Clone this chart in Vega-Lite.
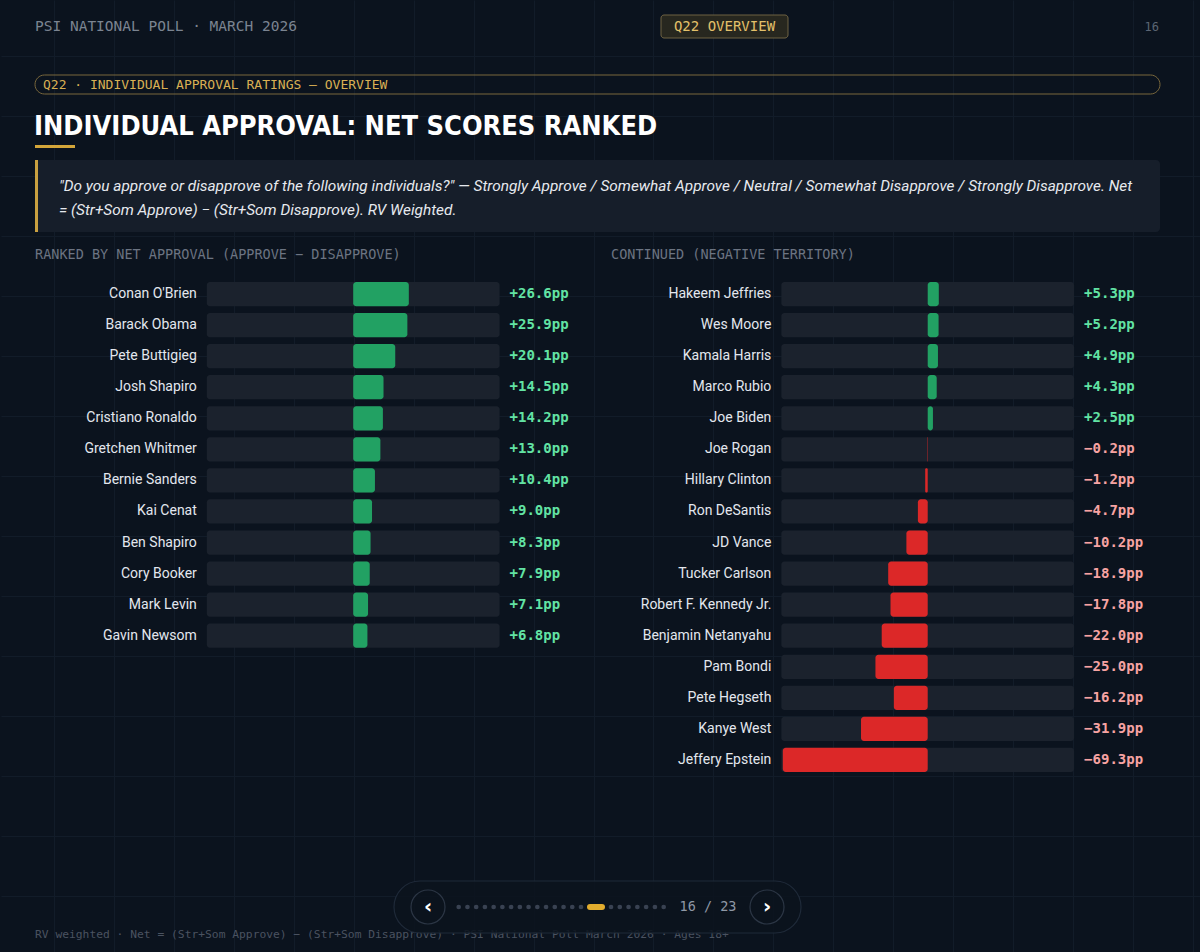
{
  "$schema": "https://vega.github.io/schema/vega-lite/v6.json",
  "width": 1200,
  "height": 952,
  "autosize": {"type": "fit", "contains": "padding"},
  "padding": 0,
  "background": "#0b131e",
  "config": {
    "view": {"stroke": null},
    "axis": {"minExtent": 0, "maxExtent": 0}
  },
  "datasets": {
    "rows": [
      {"panel": "L", "rank": 1, "name": "Conan O'Brien", "net": 26.6},
      {"panel": "L", "rank": 2, "name": "Barack Obama", "net": 25.9},
      {"panel": "L", "rank": 3, "name": "Pete Buttigieg", "net": 20.1},
      {"panel": "L", "rank": 4, "name": "Josh Shapiro", "net": 14.5},
      {"panel": "L", "rank": 5, "name": "Cristiano Ronaldo", "net": 14.2},
      {"panel": "L", "rank": 6, "name": "Gretchen Whitmer", "net": 13.0},
      {"panel": "L", "rank": 7, "name": "Bernie Sanders", "net": 10.4},
      {"panel": "L", "rank": 8, "name": "Kai Cenat", "net": 9.0},
      {"panel": "L", "rank": 9, "name": "Ben Shapiro", "net": 8.3},
      {"panel": "L", "rank": 10, "name": "Cory Booker", "net": 7.9},
      {"panel": "L", "rank": 11, "name": "Mark Levin", "net": 7.1},
      {"panel": "L", "rank": 12, "name": "Gavin Newsom", "net": 6.8},
      {"panel": "R", "rank": 1, "name": "Hakeem Jeffries", "net": 5.3},
      {"panel": "R", "rank": 2, "name": "Wes Moore", "net": 5.2},
      {"panel": "R", "rank": 3, "name": "Kamala Harris", "net": 4.9},
      {"panel": "R", "rank": 4, "name": "Marco Rubio", "net": 4.3},
      {"panel": "R", "rank": 5, "name": "Joe Biden", "net": 2.5},
      {"panel": "R", "rank": 6, "name": "Joe Rogan", "net": -0.2},
      {"panel": "R", "rank": 7, "name": "Hillary Clinton", "net": -1.2},
      {"panel": "R", "rank": 8, "name": "Ron DeSantis", "net": -4.7},
      {"panel": "R", "rank": 9, "name": "JD Vance", "net": -10.2},
      {"panel": "R", "rank": 10, "name": "Tucker Carlson", "net": -18.9},
      {"panel": "R", "rank": 11, "name": "Robert F. Kennedy Jr.", "net": -17.8},
      {"panel": "R", "rank": 12, "name": "Benjamin Netanyahu", "net": -22.0},
      {"panel": "R", "rank": 13, "name": "Pam Bondi", "net": -25.0},
      {"panel": "R", "rank": 14, "name": "Pete Hegseth", "net": -16.2},
      {"panel": "R", "rank": 15, "name": "Kanye West", "net": -31.9},
      {"panel": "R", "rank": 16, "name": "Jeffery Epstein", "net": -69.3}
    ],
    "pages": [
      {"page": 1}, {"page": 2}, {"page": 3}, {"page": 4}, {"page": 5}, {"page": 6},
      {"page": 7}, {"page": 8}, {"page": 9}, {"page": 10}, {"page": 11}, {"page": 12},
      {"page": 13}, {"page": 14}, {"page": 15}, {"page": 16}, {"page": 17}, {"page": 18},
      {"page": 19}, {"page": 20}, {"page": 21}, {"page": 22}, {"page": 23}
    ]
  },
  "layer": [
    {
      "data": {"values": [{}]},
      "mark": {"type": "point", "opacity": 0, "size": 1},
      "encoding": {
        "x": {"datum": 600, "type": "quantitative", "scale": {"domain": [0, 1200], "nice": false, "zero": false},
          "axis": {"grid": true, "values": [53, 113, 173, 233, 293, 353, 413, 473, 533, 593, 653, 713, 773, 833, 893, 953, 1013, 1073, 1133, 1193],
            "labels": false, "ticks": false, "domain": false, "title": null, "gridColor": "#121c29", "gridWidth": 1, "zindex": 0}},
        "y": {"datum": 476, "type": "quantitative", "scale": {"domain": [0, 952], "range": [0, 952], "nice": false, "zero": false},
          "axis": {"grid": true, "values": [55, 115, 175, 235, 295, 355, 415, 475, 535, 595, 655, 715, 775, 835, 895],
            "labels": false, "ticks": false, "domain": false, "title": null, "gridColor": "#121c29", "gridWidth": 1, "zindex": 0}}
      }
    },
    {
      "data": {"values": [{}]},
      "layer": [
        {"mark": {"type": "rule", "x": 0, "x2": 1200, "y": 52, "y2": 52, "stroke": "#1c2737", "strokeWidth": 1.5}, "encoding": {}},
        {"mark": {"type": "text", "x": 34, "y": 26, "text": "PSI NATIONAL POLL · MARCH 2026", "align": "left", "baseline": "middle", "font": "DejaVu Sans Mono", "fontSize": 14.5, "fill": "#7b8491"}, "encoding": {}},
        {"mark": {"type": "rect", "x": 660, "x2": 787, "y": 14, "y2": 37, "fill": "#27271f", "stroke": "#6f6343", "strokeWidth": 1, "cornerRadius": 3}, "encoding": {}},
        {"mark": {"type": "text", "x": 723.5, "y": 26, "text": "Q22 OVERVIEW", "align": "center", "baseline": "middle", "font": "DejaVu Sans Mono", "fontSize": 14, "fill": "#e3c06a"}, "encoding": {}},
        {"mark": {"type": "text", "x": 1158, "y": 26, "text": "16", "align": "right", "baseline": "middle", "font": "DejaVu Sans Mono", "fontSize": 12, "fill": "#5c6573"}, "encoding": {}},
        {"mark": {"type": "rect", "x": 34, "x2": 1159, "y": 74, "y2": 93, "fill": null, "stroke": "#7a683c", "strokeWidth": 1, "cornerRadius": 9.5}, "encoding": {}},
        {"mark": {"type": "text", "x": 42, "y": 84, "text": "Q22 · INDIVIDUAL APPROVAL RATINGS — OVERVIEW", "align": "left", "baseline": "middle", "font": "DejaVu Sans Mono", "fontSize": 13, "fill": "#d9b054"}, "encoding": {}},
        {"mark": {"type": "text", "x": 33, "y": 134, "text": "INDIVIDUAL APPROVAL: NET SCORES RANKED", "align": "left", "baseline": "alphabetic", "font": "Liberation Sans Narrow, DejaVu Sans Condensed, sans-serif", "fontWeight": "bold", "fontSize": 27, "fill": "#ffffff"}, "encoding": {}},
        {"mark": {"type": "rect", "x": 34, "x2": 74, "y": 144, "y2": 147, "fill": "#d4a63a"}, "encoding": {}},
        {"mark": {"type": "rect", "x": 34, "x2": 1159, "y": 159, "y2": 231, "fill": "#161e2a", "cornerRadius": 4}, "encoding": {}},
        {"mark": {"type": "rect", "x": 34, "x2": 37, "y": 159, "y2": 231, "fill": "#c9a040"}, "encoding": {}},
        {"mark": {"type": "text", "x": 58, "y": 185, "text": "\"Do you approve or disapprove of the following individuals?\" — Strongly Approve / Somewhat Approve / Neutral / Somewhat Disapprove / Strongly Disapprove. Net", "align": "left", "baseline": "middle", "font": "Roboto", "fontStyle": "italic", "fontSize": 15.4, "fill": "#e6e9ee"}, "encoding": {}},
        {"mark": {"type": "text", "x": 58, "y": 209, "text": "= (Str+Som Approve) − (Str+Som Disapprove). RV Weighted.", "align": "left", "baseline": "middle", "font": "Roboto", "fontStyle": "italic", "fontSize": 15.4, "fill": "#e6e9ee"}, "encoding": {}},
        {"mark": {"type": "text", "x": 34, "y": 254, "text": "RANKED BY NET APPROVAL (APPROVE − DISAPPROVE)", "align": "left", "baseline": "middle", "font": "DejaVu Sans Mono", "fontSize": 13.5, "fill": "#6c7482"}, "encoding": {}},
        {"mark": {"type": "text", "x": 610, "y": 254, "text": "CONTINUED (NEGATIVE TERRITORY)", "align": "left", "baseline": "middle", "font": "DejaVu Sans Mono", "fontSize": 13.5, "fill": "#6c7482"}, "encoding": {}},
        {"mark": {"type": "rule", "x": 34, "x2": 584, "y": 270, "y2": 270, "stroke": "#151e2a", "strokeWidth": 1}, "encoding": {}},
        {"mark": {"type": "rule", "x": 609, "x2": 1159, "y": 270, "y2": 270, "stroke": "#151e2a", "strokeWidth": 1}, "encoding": {}},
        {"mark": {"type": "text", "x": 34, "y": 934, "text": "RV weighted · Net = (Str+Som Approve) − (Str+Som Disapprove) · PSI National Poll March 2026 · Ages 18+", "align": "left", "baseline": "middle", "font": "DejaVu Sans Mono", "fontSize": 11.3, "fill": "#4a5260"}, "encoding": {}}
      ]
    },
    {
      "data": {"name": "rows"},
      "transform": [
        {"filter": "datum.panel === 'L'"},
        {"calculate": "format(datum.net, '+.1f') + 'pp'", "as": "label"}
      ],
      "encoding": {
        "y": {"field": "rank", "type": "ordinal", "axis": null,
          "scale": {"domain": [1, 2, 3, 4, 5, 6, 7, 8, 9, 10, 11, 12, 13, 14, 15, 16], "range": [277.5, 774.5], "paddingInner": 0.22, "paddingOuter": 0.11}}
      },
      "layer": [
        {"mark": {"type": "bar", "color": "#1b222d", "cornerRadius": 3},
          "encoding": {"x": {"datum": -70, "type": "quantitative", "axis": null, "scale": {"domain": [-168.43, 404.95], "nice": false, "zero": false}}, "x2": {"datum": 70}}},
        {"mark": {"type": "bar", "cornerRadius": 3},
          "encoding": {"x": {"field": "net", "type": "quantitative"}, "x2": {"datum": 0},
            "color": {"condition": {"test": "datum.net > 0", "value": "#22a163"}, "value": "#dc2828"}}},
        {"mark": {"type": "text", "align": "right", "baseline": "middle", "dx": -10, "font": "Roboto", "fontSize": 14, "fill": "#e3e7ee"},
          "encoding": {"x": {"datum": -70, "type": "quantitative"}, "text": {"field": "name"}}},
        {"mark": {"type": "text", "align": "left", "baseline": "middle", "dx": 10, "font": "DejaVu Sans Mono", "fontWeight": "bold", "fontSize": 14},
          "encoding": {"x": {"datum": 70, "type": "quantitative"}, "text": {"field": "label"},
            "color": {"condition": {"test": "datum.net > 0", "value": "#62e3a4"}, "value": "#f7a3a3"}}}
      ]
    },
    {
      "data": {"name": "rows"},
      "transform": [
        {"filter": "datum.panel === 'R'"},
        {"calculate": "format(datum.net, '+.1f') + 'pp'", "as": "label"}
      ],
      "encoding": {
        "y": {"field": "rank", "type": "ordinal", "axis": null,
          "scale": {"domain": [1, 2, 3, 4, 5, 6, 7, 8, 9, 10, 11, 12, 13, 14, 15, 16], "range": [277.5, 774.5], "paddingInner": 0.22, "paddingOuter": 0.11}}
      },
      "layer": [
        {"mark": {"type": "bar", "color": "#1b222d", "cornerRadius": 3},
          "encoding": {"x": {"datum": -70, "type": "quantitative", "axis": null, "scale": {"domain": [-443.17, 130.21], "nice": false, "zero": false}}, "x2": {"datum": 70}}},
        {"mark": {"type": "bar", "cornerRadius": 3},
          "encoding": {"x": {"field": "net", "type": "quantitative"}, "x2": {"datum": 0},
            "color": {"condition": {"test": "datum.net > 0", "value": "#22a163"}, "value": "#dc2828"}}},
        {"mark": {"type": "text", "align": "right", "baseline": "middle", "dx": -10, "font": "Roboto", "fontSize": 14, "fill": "#e3e7ee"},
          "encoding": {"x": {"datum": -70, "type": "quantitative"}, "text": {"field": "name"}}},
        {"mark": {"type": "text", "align": "left", "baseline": "middle", "dx": 10, "font": "DejaVu Sans Mono", "fontWeight": "bold", "fontSize": 14},
          "encoding": {"x": {"datum": 70, "type": "quantitative"}, "text": {"field": "label"},
            "color": {"condition": {"test": "datum.net > 0", "value": "#62e3a4"}, "value": "#f7a3a3"}}}
      ]
    },
    {
      "data": {"values": [{}]},
      "layer": [
        {"mark": {"type": "rect", "x": 393, "x2": 800, "y": 880, "y2": 932, "fill": "#0b131e", "fillOpacity": 0.88, "stroke": "#1f2a39", "strokeWidth": 1.2, "cornerRadius": 26}, "encoding": {}},
        {"mark": {"type": "point", "shape": "circle", "x": 427, "y": 906, "size": 1156, "filled": false, "stroke": "#3a4556", "strokeWidth": 1.2}, "encoding": {}},
        {"mark": {"type": "point", "shape": "circle", "x": 766, "y": 906, "size": 1156, "filled": false, "stroke": "#3a4556", "strokeWidth": 1.2}, "encoding": {}},
        {"mark": {"type": "text", "x": 427, "y": 906, "text": "‹", "align": "center", "baseline": "middle", "font": "DejaVu Sans", "fontWeight": "bold", "fontSize": 20, "fill": "#ffffff"}, "encoding": {}},
        {"mark": {"type": "text", "x": 766, "y": 906, "text": "›", "align": "center", "baseline": "middle", "font": "DejaVu Sans", "fontWeight": "bold", "fontSize": 20, "fill": "#ffffff"}, "encoding": {}},
        {"mark": {"type": "text", "x": 707, "y": 906, "text": "16 / 23", "align": "center", "baseline": "middle", "font": "DejaVu Sans Mono", "fontSize": 13.5, "fill": "#8f98a6"}, "encoding": {}}
      ]
    },
    {
      "data": {"name": "pages"},
      "layer": [
        {"transform": [{"filter": "datum.page !== 16"}],
          "mark": {"type": "point", "shape": "circle", "filled": true, "size": 22, "color": "#394252", "opacity": 1, "y": 906},
          "encoding": {"x": {"field": "page", "type": "quantitative", "axis": null,
            "scale": {"domain": [1, 15, 16, 17, 23], "range": [457.7, 580, 595, 610, 662.7], "nice": false, "zero": false}}}},
        {"transform": [{"filter": "datum.page === 16"}],
          "mark": {"type": "rule", "stroke": "#e2ad2e", "strokeWidth": 6, "strokeCap": "round", "y": 906},
          "encoding": {"x": {"datum": 15.6, "type": "quantitative"}, "x2": {"datum": 16.4}}}
      ]
    }
  ],
  "resolve": {"scale": {"x": "independent", "y": "independent"}, "axis": {"x": "independent", "y": "independent"}}
}
